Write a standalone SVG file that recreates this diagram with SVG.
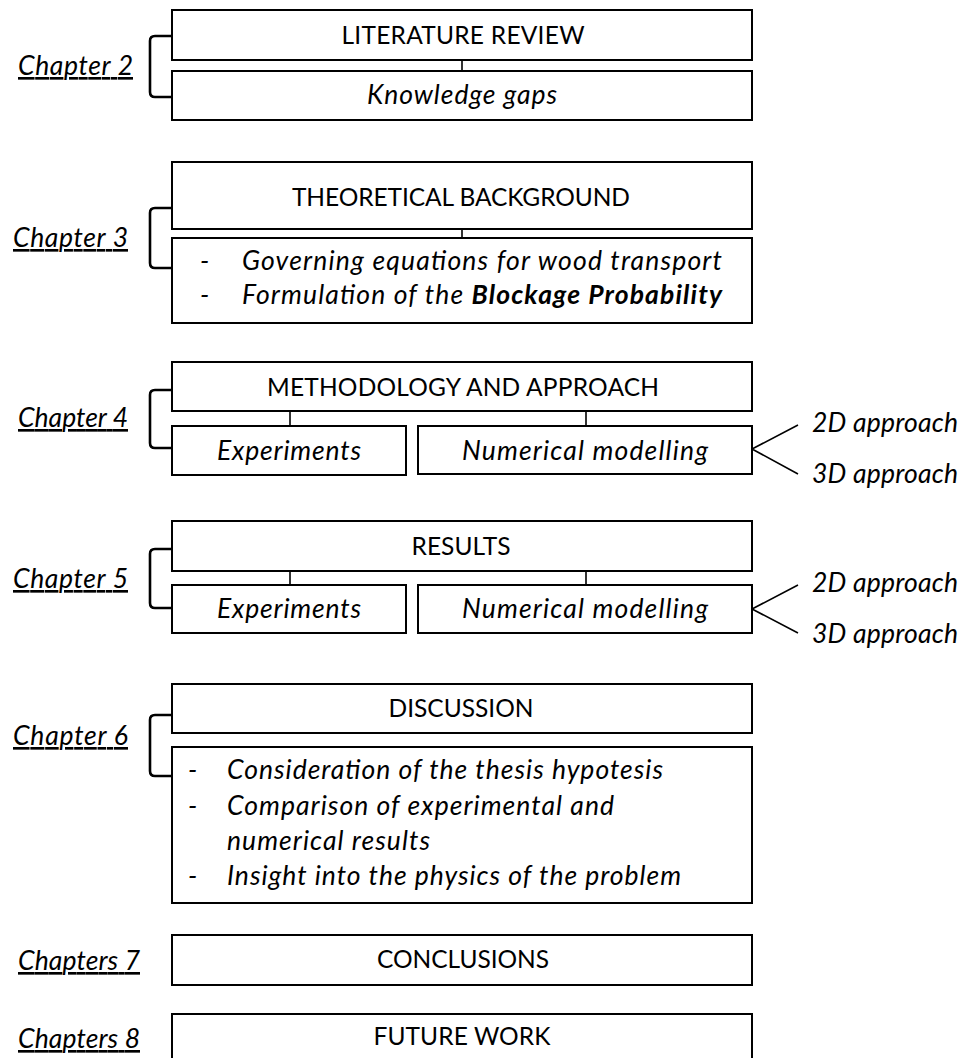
<svg xmlns="http://www.w3.org/2000/svg" width="972" height="1058" viewBox="0 0 972 1058">
<style>
.box{fill:#fff;stroke:#000;stroke-width:2}
.ln{fill:none;stroke:#000;stroke-width:1.6}
.br{fill:none;stroke:#000;stroke-width:2.6;stroke-linejoin:round}
text{font-family:Lato,"Carlito","Liberation Sans",sans-serif;font-size:24.5px;fill:#000}
.c{text-anchor:middle}
.i{font-style:italic;font-size:26.5px}
.ch{font-style:italic;font-size:26.5px;text-decoration:underline}
</style>
<rect width="972" height="1058" fill="#fff"/>

<g id="connectors">
<line class="ln" x1="462" y1="60" x2="462" y2="71"/>
<line class="ln" x1="462" y1="229" x2="462" y2="238"/>
<line class="ln" x1="290" y1="411" x2="290" y2="426"/>
<line class="ln" x1="586" y1="411" x2="586" y2="426"/>
<line class="ln" x1="290" y1="571" x2="290" y2="585"/>
<line class="ln" x1="586" y1="571" x2="586" y2="585"/>
<polyline class="ln" points="798,425 752,449 798,474"/>
<polyline class="ln" points="798,585 752,609 798,633"/>
<path class="br" d="M172,36 H155 Q150,36 150,41 V92 Q150,97 155,97 H172"/>
<path class="br" d="M172,208 H155 Q150,208 150,213 V263 Q150,268 155,268 H172"/>
<path class="br" d="M172,390 H155 Q150,390 150,395 V443 Q150,448 155,448 H172"/>
<path class="br" d="M172,549 H155 Q150,549 150,554 V603 Q150,608 155,608 H172"/>
<path class="br" d="M172,715 H155 Q150,715 150,720 V771 Q150,776 155,776 H172"/>
</g>

<g id="ch2-label"><text class="ch" x="18" y="75" textLength="115">Chapter 2</text></g>
<g id="lit-review"><rect class="box" x="172" y="10" width="580" height="50"/><text class="c" x="463" y="44" textLength="243">LITERATURE REVIEW</text></g>
<g id="knowledge-gaps"><rect class="box" x="172" y="71" width="580" height="49"/><text class="c i" x="462" y="104" textLength="190">Knowledge gaps</text></g>

<g id="ch3-label"><text class="ch" x="13" y="247" textLength="115">Chapter 3</text></g>
<g id="theory"><rect class="box" x="172" y="162" width="580" height="67"/><text class="c" x="461" y="206" textLength="338">THEORETICAL BACKGROUND</text></g>
<g id="theory-items"><rect class="box" x="172" y="238" width="580" height="85"/>
<text class="i" x="200" y="270">-</text><text class="i" x="242" y="270" textLength="480">Governing equations for wood transport</text>
<text class="i" x="200" y="304">-</text><text class="i" x="242" y="304" textLength="480">Formulation of the <tspan font-weight="bold">Blockage Probability</tspan></text>
</g>

<g id="ch4-label"><text class="ch" x="18" y="427" textLength="110">Chapter 4</text></g>
<g id="methodology"><rect class="box" x="172" y="362" width="580" height="49"/><text class="c" x="463" y="396" textLength="392">METHODOLOGY AND APPROACH</text></g>
<g id="meth-experiments"><rect class="box" x="172" y="426" width="234" height="49"/><text class="c i" x="289" y="460" textLength="144">Experiments</text></g>
<g id="meth-numerical"><rect class="box" x="418" y="426" width="334" height="48"/><text class="c i" x="585" y="460" textLength="246">Numerical modelling</text></g>
<g id="meth-2d"><text class="i" x="812" y="432" textLength="146">2D approach</text></g>
<g id="meth-3d"><text class="i" x="812" y="483" textLength="146">3D approach</text></g>

<g id="ch5-label"><text class="ch" x="13" y="588" textLength="115">Chapter 5</text></g>
<g id="results"><rect class="box" x="172" y="521" width="580" height="50"/><text class="c" x="461" y="555" textLength="99">RESULTS</text></g>
<g id="res-experiments"><rect class="box" x="172" y="585" width="234" height="48"/><text class="c i" x="289" y="618" textLength="144">Experiments</text></g>
<g id="res-numerical"><rect class="box" x="418" y="585" width="334" height="48"/><text class="c i" x="585" y="618" textLength="246">Numerical modelling</text></g>
<g id="res-2d"><text class="i" x="812" y="592" textLength="146">2D approach</text></g>
<g id="res-3d"><text class="i" x="812" y="643" textLength="146">3D approach</text></g>

<g id="ch6-label"><text class="ch" x="13" y="745" textLength="115">Chapter 6</text></g>
<g id="discussion"><rect class="box" x="172" y="684" width="580" height="49"/><text class="c" x="461" y="717" textLength="145">DISCUSSION</text></g>
<g id="discussion-items"><rect class="box" x="172" y="747" width="580" height="156"/>
<text class="i" x="188" y="779">-</text><text class="i" x="227" y="779" textLength="436">Consideration of the thesis hypotesis</text>
<text class="i" x="188" y="815">-</text><text class="i" x="227" y="815" textLength="387">Comparison of experimental and</text>
<text class="i" x="227" y="850" textLength="203">numerical results</text>
<text class="i" x="188" y="885">-</text><text class="i" x="227" y="885" textLength="454">Insight into the physics of the problem</text>
</g>

<g id="ch7-label"><text class="ch" x="18" y="970" textLength="122">Chapters 7</text></g>
<g id="conclusions"><rect class="box" x="172" y="935" width="580" height="50"/><text class="c" x="463" y="968" textLength="172">CONCLUSIONS</text></g>

<g id="ch8-label"><text class="ch" x="18" y="1048" textLength="122">Chapters 8</text></g>
<g id="future-work"><rect class="box" x="172" y="1014" width="580" height="60"/><text class="c" x="462" y="1045" textLength="177">FUTURE WORK</text></g>
</svg>
